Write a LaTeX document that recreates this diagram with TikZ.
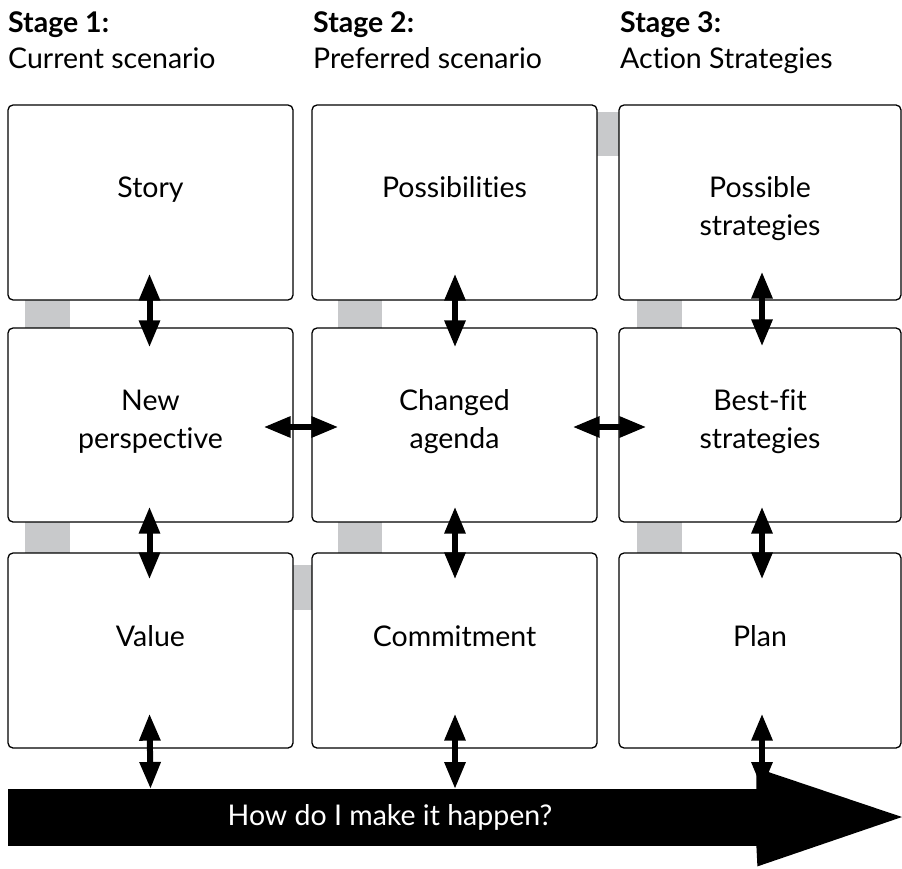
\documentclass[tikz,border=0pt]{standalone}
\usepackage{fontspec}
\setmainfont{Lato}[Ligatures={NoCommon}]
\usetikzlibrary{arrows.meta,calc}
\definecolor{gapgray}{RGB}{200,201,203}
\begin{document}
\begin{tikzpicture}[x=1pt,y=-1pt,
  box/.style={draw, line width=1.3pt, rounded corners=5pt, minimum width=285pt, minimum height=195pt, inner sep=0pt, fill=white},
  lbl/.style={font=\fontsize{28.5}{38}\selectfont, anchor=base, inner sep=0pt, align=center},
  head/.style={font=\fontsize{28.5}{32}\selectfont, anchor=base west, inner sep=0pt},
  dbl/.style={line width=6pt, {Triangle[length=27pt,width=20pt]}-{Triangle[length=27pt,width=20pt]}},
  gapfill/.style={fill=gapgray, draw=none}]
\useasboundingbox (0,0) rectangle (902,869);
% headers
\node[head, font=\fontsize{28.5}{32}\selectfont\bfseries] (h1) at (8,33) {Stage 1:};
\node[head] (s1) at (8,69) {Current scenario};
\node[head, font=\fontsize{28.5}{32}\selectfont\bfseries] (h2) at (313,33) {Stage 2:};
\node[head] (s2) at (313,69) {Preferred scenario};
\node[head, font=\fontsize{28.5}{32}\selectfont\bfseries] (h3) at (620,33) {Stage 3:};
\node[head] (s3) at (620,69) {Action Strategies};
% gray connectors
\fill[gapfill] (25,295) rectangle (70,333);
\fill[gapfill] (338,295) rectangle (382,333);
\fill[gapfill] (637,295) rectangle (682,333);
\fill[gapfill] (25,517) rectangle (70,558);
\fill[gapfill] (338,517) rectangle (382,558);
\fill[gapfill] (637,517) rectangle (682,558);
\fill[gapfill] (288,565) rectangle (317,610);
\fill[gapfill] (592,112) rectangle (624,156);
% boxes
\node[box] (b11) at (150.5,202.5) {};
\node[box] (b12) at (454.5,202.5) {};
\node[box, minimum width=282pt] (b13) at (760,202.5) {};
\node[box, minimum height=194pt] (b21) at (150.5,425) {};
\node[box, minimum height=194pt] (b22) at (454.5,425) {};
\node[box, minimum height=194pt, minimum width=282pt] (b23) at (760,425) {};
\node[box] (b31) at (150.5,650.5) {};
\node[box] (b32) at (454.5,650.5) {};
\node[box, minimum width=282pt] (b33) at (760,650.5) {};
% texts
\node[lbl] (t11) at (150.5,198) {Story};
\node[lbl] (t12) at (454.5,198) {Possibilities};
\node[lbl] (t13) at (760,236) {Possible\\strategies};
\node[lbl] (t21) at (150.5,448) {New\\perspective};
\node[lbl] (t22) at (454.5,448) {Changed\\agenda};
\node[lbl] (t23) at (760,448) {Best-fit\\strategies};
\node[lbl] (t31) at (150.5,646) {Value};
\node[lbl] (t32) at (454.5,646) {Commitment};
\node[lbl] (t33) at (760,646) {Plan};
% big arrow bar
\node[fill=black, draw=none, minimum width=749pt, minimum height=57pt, inner sep=0pt, anchor=north west] (bar) at (8,789) {};
% double arrows
\draw[dbl] ($(b11.south)+(-1,-27)$) -- ($(b21.north)+(-1,20)$);
\draw[dbl] ($(b12.south)+(0.5,-27)$) -- ($(b22.north)+(0.5,20)$);
\draw[dbl] ($(b13.south)+(2,-29)$) -- ($(b23.north)+(2,19)$);
\draw[dbl] ($(b21.south)+(-1,-16)$) -- ($(b31.north)+(-1,27)$);
\draw[dbl] ($(b22.south)+(0.5,-16)$) -- ($(b32.north)+(0.5,27)$);
\draw[dbl] ($(b23.south)+(2,-16)$) -- ($(b33.north)+(2,27)$);
\draw[dbl] ($(b21.east)+(-30,2)$) -- ($(b22.west)+(27,2)$);
\draw[dbl] ($(b22.east)+(-25,2)$) -- ($(b23.west)+(28,2)$);
\draw[dbl] ($(b31.south)+(-1,-35)$) -- (bar.north -| b31.south);
\draw[dbl] ($(b32.south)+(0.5,-35)$) -- ($(bar.north -| b32.south)+(0.5,0)$);
\draw[dbl] ($(b33.south)+(2,-35)$) -- ($(bar.north -| b33.south)+(2,0)$);
% arrow head
\fill[black] ($(bar.north east)+(-1,0)$) -- ++(0,-21) -- (902,817) -- ($(bar.south east)+(0,20)$) -- ($(bar.south east)+(-1,0)$) -- cycle;
\node[font=\fontsize{28.5}{32}\selectfont, text=white, anchor=base, inner sep=0pt] (how) at (390,825) {How do I make it happen?};
\end{tikzpicture}
\end{document}
